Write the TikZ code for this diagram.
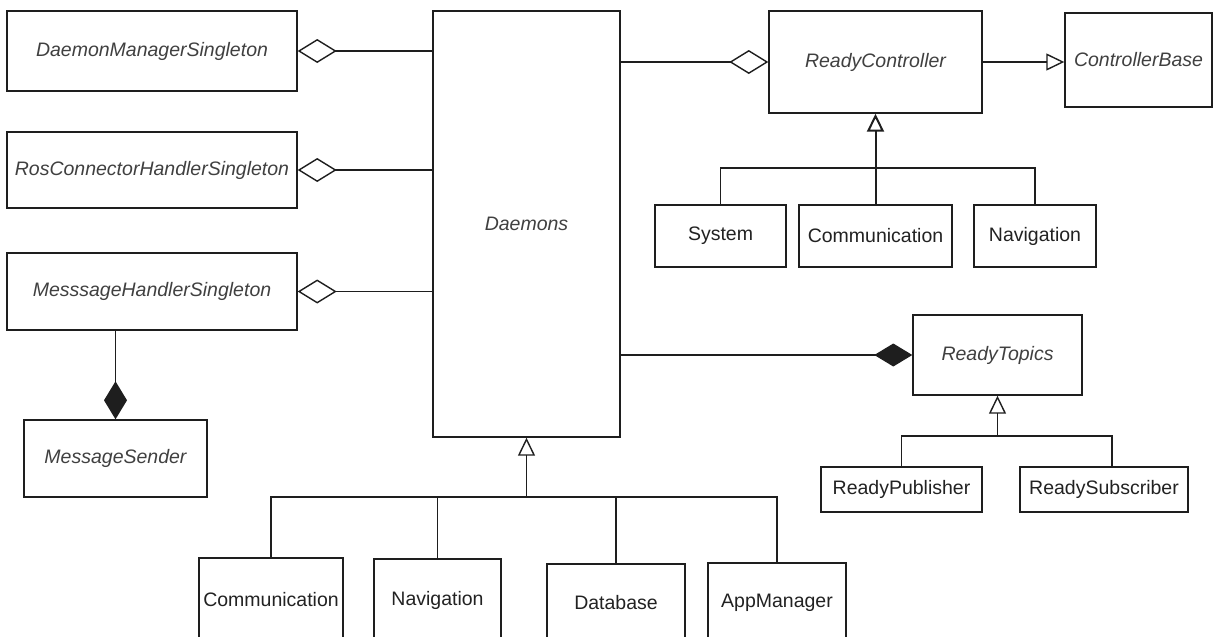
\documentclass[tikz,border=0pt]{standalone}
\usepackage{fontspec}
\setmainfont{Liberation Sans}
\usetikzlibrary{arrows.meta}
\definecolor{linecol}{RGB}{30,30,30}
\definecolor{abscol}{RGB}{64,64,64}
\definecolor{txtcol}{RGB}{34,34,34}
\tikzset{
  box/.style={draw=linecol, line width=1.4pt, fill=white, inner sep=0pt,
    text=txtcol, font=\fontsize{19.5}{23}\selectfont},
  abstract/.style={box, text=abscol, font=\fontsize{19.5}{23}\selectfont\itshape},
  link/.style={draw=linecol, line width=1.4pt},
  aggr/.style={link, -{Diamond[open,length=39pt,width=24pt]}},
  comp/.style={link, -{Diamond[length=38pt,width=23pt]}},
  gen/.style={link, -{Triangle[open,length=18pt,width=17pt]}},
}
\begin{document}
\begin{tikzpicture}[x=1pt,y=-1pt]
\useasboundingbox (0,0) rectangle (1218,637);
\fill[white] (0,0) rectangle (1218,637);
\begin{scope}
\clip (0,0) rectangle (1218,637);

% singletons and their helper
\node[abstract, minimum width=290pt, minimum height=80pt] (dms) at (152,51) {DaemonManagerSingleton};
\node[abstract, minimum width=290pt, minimum height=76pt] (rch) at (152,170) {RosConnectorHandlerSingleton};
\node[abstract, minimum width=290pt, minimum height=77pt] (mhs) at (152,291.5) {MesssageHandlerSingleton};
\node[abstract, minimum width=183pt, minimum height=77pt] (ms) at (115.5,458.5) {MessageSender};

% central class
\node[abstract, minimum width=187pt, minimum height=426pt] (daemons) at (526.5,224) {Daemons};

% controllers
\node[abstract, minimum width=213pt, minimum height=102pt] (rc) at (875.5,62) {ReadyController};
\node[abstract, minimum width=147pt, minimum height=94pt] (cb) at (1138.5,60) {ControllerBase};
\node[box, minimum width=131pt, minimum height=62pt] (sys) at (720.5,236) {System};
\node[box, minimum width=153pt, minimum height=62pt] (ccomm) at (875.5,236) {Communication};
\node[box, minimum width=122pt, minimum height=62pt] (cnav) at (1035,236) {Navigation};

% topics
\node[abstract, minimum width=169pt, minimum height=80pt] (rt) at (997.5,355) {ReadyTopics};
\node[box, minimum width=161pt, minimum height=45pt] (rp) at (901.5,489.5) {ReadyPublisher};
\node[box, minimum width=168pt, minimum height=45pt] (rs) at (1104,489.5) {ReadySubscriber};

% daemon subclasses
\node[box, minimum width=144pt, minimum height=84pt] (dcomm) at (271,600) {Communication};
\node[box, minimum width=127pt, minimum height=82pt] (dnav) at (437.5,600) {Navigation};
\node[box, minimum width=138pt, minimum height=78pt] (ddb) at (616,603) {Database};
\node[box, minimum width=138pt, minimum height=80pt] (dapp) at (777,603) {AppManager};

% aggregations towards Daemons
\draw[aggr] (dms.east -| daemons.west) -- (dms.east);
\draw[aggr] (rch.east -| daemons.west) -- (rch.east);
\draw[aggr] (mhs.east -| daemons.west) -- (mhs.east);
\draw[comp] (mhs.south -| ms.north) -- (ms.north);
\draw[aggr] (daemons.east |- rc.west) -- (rc.west);
\draw[comp] (daemons.east |- rt.west) -- (rt.west);

% inheritance
\draw[gen] (rc.east) -- (rc.east -| cb.west);

\coordinate (rcjoin) at (875.5,168);
\draw[gen, line width=2pt] (ccomm.north) -- (rc.south);
\draw[link] (sys.north) |- (rcjoin);
\draw[link] (cnav.north) |- (rcjoin);

\coordinate (rtjoin) at (997.5,436);
\draw[gen] (rtjoin) -- (rt.south);
\draw[link] (rp.north) |- (rtjoin);
\draw[link] ([xshift=8pt]rs.north) |- (rtjoin);

\coordinate (djoin) at (526.5,497);
\draw[gen] (djoin) -- (daemons.south);
\foreach \n in {dcomm,dnav,ddb,dapp}
  \draw[link] (\n.north) |- (djoin);
\end{scope}
\end{tikzpicture}
\end{document}
